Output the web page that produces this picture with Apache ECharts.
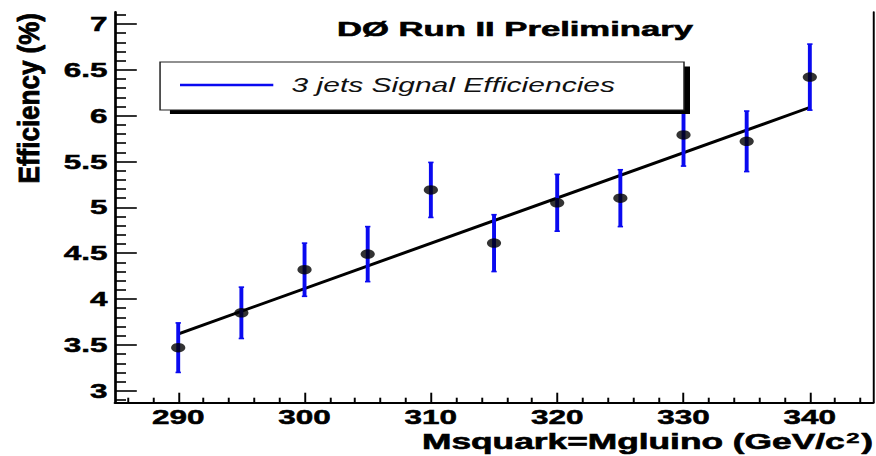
<!DOCTYPE html>
<html>
<head>
<meta charset="utf-8">
<script src="https://cdn.jsdelivr.net/npm/echarts@6/dist/echarts.min.js"></script>
<style>
  html, body { margin: 0; padding: 0; background: #ffffff; overflow: hidden; }
  /* the plot is laid out narrow and widened horizontally, like the ROOT canvas export */
  #chart { width: 584px; height: 456px; transform: scaleX(1.5); transform-origin: 0 0; }
</style>
</head>
<body>
<div id="chart"></div>
<script>
// squark = gluino mass points (GeV/c^2)
const massPoints = [290, 295, 300, 305, 310, 315, 320, 325, 330, 335, 340];
// 3-jet signal efficiency (%) and its uncertainty
const efficiency = [3.47, 3.85, 4.32, 4.49, 5.19, 4.61, 5.05, 5.10, 5.79, 5.72, 6.42];
const effError   = [0.27, 0.28, 0.29, 0.30, 0.30, 0.31, 0.31, 0.31, 0.34, 0.33, 0.36];
// straight-line fit, drawn between its end points
const fitMass = [290, 340];
const fitEff  = [3.62, 6.09];
// axis ticks and labels
const xMajorTicks = [290, 300, 310, 320, 330, 340];
const xMinorTicks = [286, 288, 292, 294, 296, 298, 302, 304, 306, 308, 312, 314, 316, 318,
                     322, 324, 326, 328, 332, 334, 336, 338, 342, 344];
const yMajorTicks = [3, 3.5, 4, 4.5, 5, 5.5, 6, 6.5, 7];
const yMinorTicks = [2.9, 3.1, 3.2, 3.3, 3.4, 3.6, 3.7, 3.8, 3.9, 4.1, 4.2, 4.3, 4.4,
                     4.6, 4.7, 4.8, 4.9, 5.1, 5.2, 5.3, 5.4, 5.6, 5.7, 5.8, 5.9,
                     6.1, 6.2, 6.3, 6.4, 6.6, 6.7, 6.8, 6.9, 7.1];
const xRange = [285, 345];
const yRange = [2.87, 7.13];

const titleText  = 'DØ Run II Preliminary';
const legendText = '3 jets Signal Efficiencies';
const xTitle = 'Msquark=Mgluino (GeV/c{sup|2})';
const yTitle = 'Efficiency (%)';

const FONT = '"Liberation Sans", Arial, Helvetica, sans-serif';
const BLUE = '#0a0af0';

const pointData = massPoints.map((m, i) => [m, efficiency[i]]);
const barData = massPoints.map((m, i) => [m, efficiency[i] - effError[i], efficiency[i] + effError[i]]);
const fitData = fitMass.map((m, i) => [m, fitEff[i]]);

const chart = echarts.init(document.getElementById('chart'), null, { renderer: 'svg' });

// heavy bold face for tick labels and titles
const heavy = { textBorderColor: '#000', textBorderWidth: 0.5 };
const tickLabel = Object.assign({ fontFamily: FONT, fontWeight: 'bold', fontSize: 21, color: '#000' }, heavy);

chart.setOption({
  backgroundColor: '#ffffff',
  animation: false,
  grid: { left: 76.7, right: 2, top: 12, bottom: 53.3, containLabel: false, outerBoundsMode: 'none' },
  xAxis: [
    {
      type: 'value', min: xRange[0], max: xRange[1], position: 'bottom',
      axisLine: { show: true, lineStyle: { color: '#000', width: 2 } },
      axisTick: { show: true, inside: true, length: 10, customValues: xMajorTicks,
                  lineStyle: { color: '#000', width: 1.3 } },
      axisLabel: Object.assign({ show: true, margin: 4, customValues: xMajorTicks }, tickLabel),
      splitLine: { show: false }
    },
    {
      type: 'value', min: xRange[0], max: xRange[1], position: 'bottom', offset: 0,
      axisLine: { show: false },
      axisTick: { show: true, inside: true, length: 5, customValues: xMinorTicks,
                  lineStyle: { color: '#000', width: 1.3 } },
      axisLabel: { show: false },
      splitLine: { show: false }
    }
  ],
  yAxis: [
    {
      type: 'value', min: yRange[0], max: yRange[1], position: 'left',
      axisLine: { show: true, lineStyle: { color: '#000', width: 1.8 } },
      axisTick: { show: true, inside: true, length: 14.5, customValues: yMajorTicks,
                  lineStyle: { color: '#000', width: 1.6 } },
      axisLabel: Object.assign({ show: true, margin: 5, customValues: yMajorTicks }, tickLabel),
      splitLine: { show: false }
    },
    {
      type: 'value', min: yRange[0], max: yRange[1], position: 'left', offset: 0,
      axisLine: { show: false },
      axisTick: { show: true, inside: true, length: 7.3, customValues: yMinorTicks,
                  lineStyle: { color: '#000', width: 1.6 } },
      axisLabel: { show: false },
      splitLine: { show: false }
    },
    {
      type: 'value', min: yRange[0], max: yRange[1], position: 'right', offset: 0,
      axisLine: { show: true, lineStyle: { color: '#000', width: 1.3 } },
      axisTick: { show: false },
      axisLabel: { show: false },
      splitLine: { show: false }
    }
  ],
  series: [
    {
      // linear fit
      type: 'line', data: fitData, xAxisIndex: 0, yAxisIndex: 0,
      showSymbol: false, symbol: 'none', z: 3,
      lineStyle: { color: '#000', width: 2.8 }
    },
    {
      // vertical error bars with short end caps
      type: 'custom', data: barData, xAxisIndex: 0, yAxisIndex: 0, z: 4,
      renderItem: function (params, api) {
        const x = api.value(0);
        const lo = api.coord([x, api.value(1)]);
        const hi = api.coord([x, api.value(2)]);
        const cap = 1.8;
        const st = { stroke: BLUE, lineWidth: 2.6, fill: 'none' };
        return {
          type: 'group',
          children: [
            { type: 'line', shape: { x1: lo[0], y1: lo[1], x2: hi[0], y2: hi[1] }, style: st },
            { type: 'line', shape: { x1: lo[0] - cap, y1: lo[1], x2: lo[0] + cap, y2: lo[1] }, style: { stroke: BLUE, lineWidth: 1.6 } },
            { type: 'line', shape: { x1: hi[0] - cap, y1: hi[1], x2: hi[0] + cap, y2: hi[1] }, style: { stroke: BLUE, lineWidth: 1.6 } }
          ]
        };
      }
    },
    {
      // measured efficiencies
      type: 'scatter', data: pointData, xAxisIndex: 0, yAxisIndex: 0, z: 5,
      symbol: 'circle', symbolSize: 9.5,
      itemStyle: { color: '#000' }
    }
  ],
  graphic: [
    {
      type: 'text', x: 343.3, y: 29, scaleX: 1.1, z: 10,
      style: Object.assign({ text: titleText, fontFamily: FONT, fontWeight: 'bold', fontSize: 21,
               fill: '#000', align: 'center', verticalAlign: 'middle' }, { stroke: '#000', lineWidth: 0.6 })
    },
    // legend box: shadow, frame, line sample, text
    {
      type: 'rect', z: 10,
      shape: { x: 113.3, y: 66.5, width: 346.7, height: 47.5 },
      style: { fill: '#000' }
    },
    {
      type: 'rect', z: 11,
      shape: { x: 106.7, y: 62, width: 349.3, height: 48 },
      style: { fill: '#fff', stroke: '#222', lineWidth: 1 }
    },
    {
      type: 'line', z: 12,
      shape: { x1: 120, y1: 85, x2: 182.2, y2: 85 },
      style: { stroke: BLUE, lineWidth: 2.6 }
    },
    {
      type: 'text', x: 194.4, y: 85, z: 12,
      style: { text: legendText, fontFamily: FONT, fontStyle: 'italic', fontSize: 20,
               fill: '#111', align: 'left', verticalAlign: 'middle' }
    },
    {
      type: 'text', x: 582, y: 441, scaleX: 1.07, z: 10,
      style: {
        text: xTitle, fontFamily: FONT, fontWeight: 'bold', fontSize: 22,
        fill: '#000', stroke: '#000', lineWidth: 0.6, align: 'right', verticalAlign: 'middle',
        rich: {
          sup: { fontFamily: FONT, fontWeight: 'bold', fontSize: 15, fill: '#000',
                 stroke: '#000', lineWidth: 0.4, verticalAlign: 'top', lineHeight: 22, padding: [0, 1, 10, 1] }
        }
      }
    },
    {
      type: 'text', x: 19.5, y: 13, rotation: Math.PI / 2, scaleX: 1.3, z: 10,
      style: { text: yTitle, fontFamily: FONT, fontWeight: 'bold', fontSize: 20,
               fill: '#000', stroke: '#000', lineWidth: 0.6, align: 'right', verticalAlign: 'middle' }
    }
  ]
});
</script>
</body>
</html>
